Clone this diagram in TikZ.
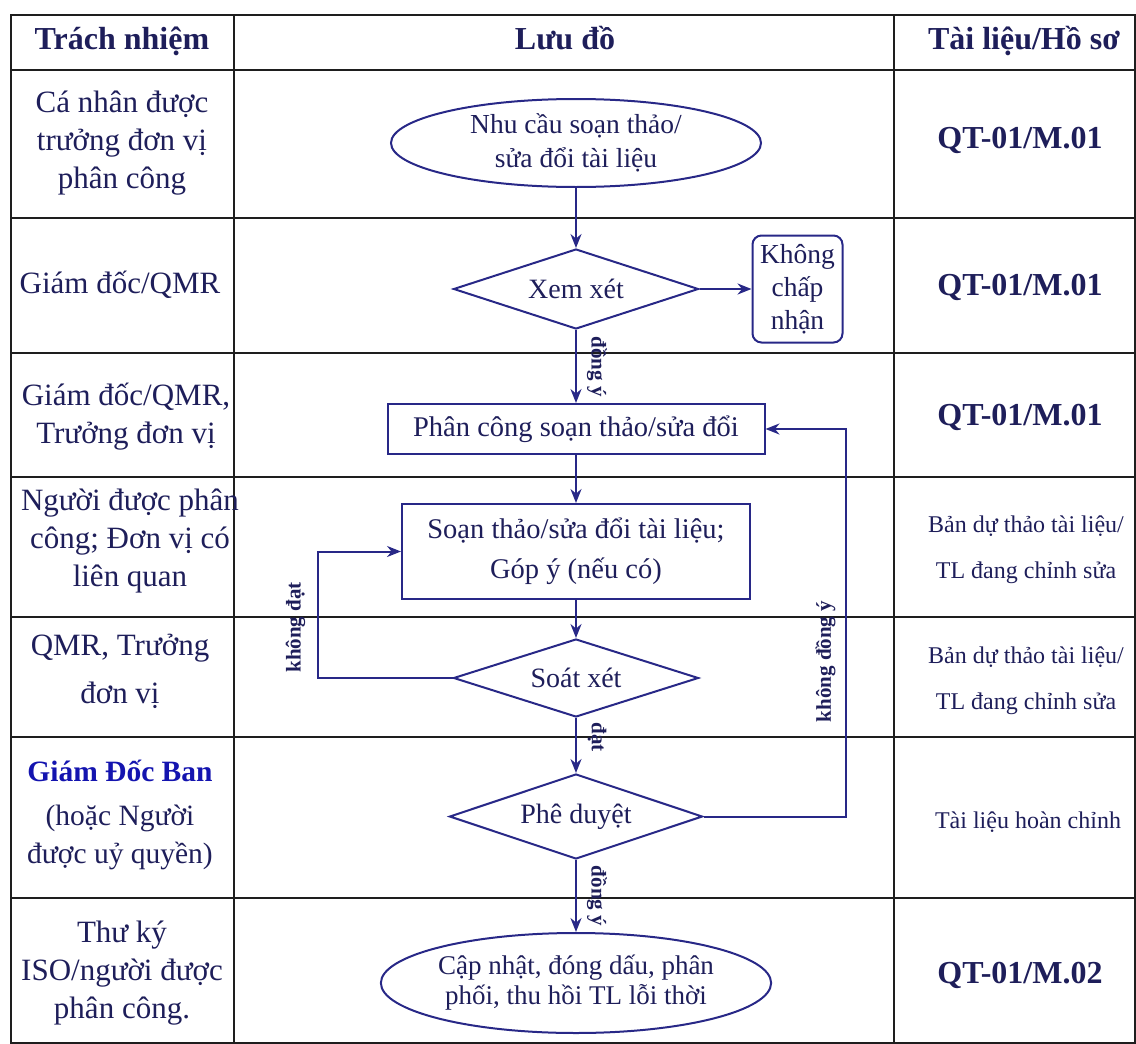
\documentclass[tikz,border=0pt]{standalone}
\usepackage{fontspec}
\setmainfont{Liberation Serif}
\usetikzlibrary{shapes.geometric, shapes.misc, calc, arrows.meta, positioning}
\definecolor{flowblue}{RGB}{40,40,135}
\definecolor{inknavy}{RGB}{30,30,90}
\definecolor{brightblue}{RGB}{20,20,175}
\definecolor{ruleblack}{RGB}{30,30,30}
\tikzstyle{line} = [draw=flowblue, -{Stealth[length=14pt,width=11pt]}]

\begin{document}
\begin{tikzpicture}[x=1pt, y=1pt, line width=2pt, >=Stealth, text=inknavy]
  % Define styles
  \tikzstyle{tableline} = [draw=ruleblack, line width=2.5pt]
  \tikzstyle{cellhead} = [align=center, text height=22pt, text depth=7pt, font=\bfseries\fontsize{32}{36}\selectfont]
  \tikzstyle{cell} = [align=center, font=\fontsize{31}{38}\selectfont]
  \tikzstyle{record} = [align=center, font=\bfseries\fontsize{32}{36}\selectfont]
  \tikzstyle{recordsmall} = [align=center, font=\fontsize{24}{46}\selectfont]
  \tikzstyle{startstop} = [ellipse, draw=flowblue, inner sep=0pt, align=center, font=\fontsize{27.5}{34}\selectfont]
  \tikzstyle{process} = [rectangle, draw=flowblue, align=center, font=\fontsize{28.5}{40}\selectfont]
  \tikzstyle{decision} = [diamond, aspect=3, draw=flowblue, minimum width=245pt, minimum height=80pt, inner sep=0pt, font=\fontsize{28}{34}\selectfont]
  \tikzstyle{refusal} = [rectangle, rounded corners=9pt, draw=flowblue, minimum width=90pt, minimum height=107pt, inner sep=2pt, align=center, font=\fontsize{27.5}{33}\selectfont]
  \tikzstyle{flowlabel} = [font=\bfseries\fontsize{21}{21}\selectfont]

  \useasboundingbox (0,0) rectangle (1136,-1044);

  % Table frame
  \draw[tableline] (11,-15) rectangle (1135,-1043);
  \draw[tableline] (234,-15) -- (234,-1043);
  \draw[tableline] (894,-15) -- (894,-1043);
  \draw[tableline] (11,-70) -- (1135,-70);
  \draw[tableline] (11,-218) -- (1135,-218);
  \draw[tableline] (11,-353) -- (1135,-353);
  \draw[tableline] (11,-477) -- (1135,-477);
  \draw[tableline] (11,-617) -- (1135,-617);
  \draw[tableline] (11,-737) -- (1135,-737);
  \draw[tableline] (11,-898) -- (1135,-898);

  % Header row
  \node[cellhead] (headResp) at (122,-42) {Trách nhiệm};
  \node[cellhead] (headFlow) at (565,-42) {Lưu đồ};
  \node[cellhead] (headDocs) at (1024,-42) {Tài liệu/Hồ sơ};

  % Responsibility column
  \node[cell] (resp1) at (122,-143) {Cá nhân được\\trưởng đơn vị\\phân công};
  \node[cell] (resp2) at (120,-285) {Giám đốc/QMR};
  \node[cell] (resp3) at (126,-417) {Giám đốc/QMR,\\Trưởng đơn vị};
  \node[cell] (resp4) at (130,-541) {Người được phân\\công; Đơn vị có\\liên quan};
  \node[cell] (resp5) at (120,-671) {QMR, Trưởng\\[10pt]đơn vị};
  \node[cell, font=\fontsize{29.5}{38}\selectfont] (resp6) at (120,-815) {\textcolor{brightblue}{\bfseries Giám Đốc Ban}\\[6pt](hoặc Người\\được uỷ quyền)};
  \node[cell] (resp7) at (122,-973) {Thư ký\\ISO/người được\\phân công.};

  % Records column
  \node[record] (doc1) at (1020,-140) {QT-01/M.01};
  \node[record] (doc2) at (1020,-287) {QT-01/M.01};
  \node[record] (doc3) at (1020,-417) {QT-01/M.01};
  \node[recordsmall] (doc4) at (1026,-550) {Bản dự thảo tài liệu/\\TL đang chỉnh sửa};
  \node[recordsmall] (doc5) at (1026,-681) {Bản dự thảo tài liệu/\\TL đang chỉnh sửa};
  \node[recordsmall] (doc6) at (1028,-822) {Tài liệu hoàn chỉnh};
  \node[record] (doc7) at (1020,-975) {QT-01/M.02};

  % Place nodes
  \node[startstop, minimum width=370pt, minimum height=88pt] (need) at (576,-143) {Nhu cầu soạn thảo/\\sửa đổi tài liệu};
  \node[decision, below=60pt of need] (review) {Xem xét};
  \node[refusal, right=52pt of review] (refuse) {Không\\chấp\\nhận};
  \node[process, below=73pt of review, minimum width=377pt, minimum height=50pt] (assign) {Phân công soạn thảo/sửa đổi};
  \node[process, below=48pt of assign, minimum width=348pt, minimum height=95pt] (draft) {Soạn thảo/sửa đổi tài liệu;\\Góp ý (nếu có)};
  \node[decision, below=38pt of draft, minimum height=78pt] (check) {Soát xét};
  \node[decision, below=55pt of check, minimum width=253pt, minimum height=85pt] (approve) {Phê duyệt};
  \node[startstop, below=72pt of approve, minimum width=385pt, minimum height=100pt, font=\fontsize{27}{30}\selectfont] (publish) {Cập nhật, đóng dấu, phân\\phối, thu hồi TL lỗi thời};

  % Draw edges
  \path [line] (need) -- (review);
  \path [line] (review) -- (refuse);
  \path [line] (review) -- node[flowlabel, xshift=21pt, rotate=-90] {đồng ý} (assign);
  \path [line] (assign) -- (draft);
  \path [line] (draft) -- (check);
  \path [line] (check) -- node[flowlabel, pos=0.35, xshift=21pt, rotate=-90] {đạt} (approve);
  \path [line] (approve) -- node[flowlabel, xshift=21pt, rotate=-90] {đồng ý} (publish);
  \path [line] (check.west) -- ++(-135pt,0) |- node[flowlabel, pos=0.2, xshift=-22pt, rotate=90] {không đạt} (draft.west);
  \path [line] (approve.east) -- ++(142pt,0) |- node[flowlabel, pos=0.2, xshift=-20pt, rotate=90] {không đồng ý} (assign.east);

\end{tikzpicture}
\end{document}
